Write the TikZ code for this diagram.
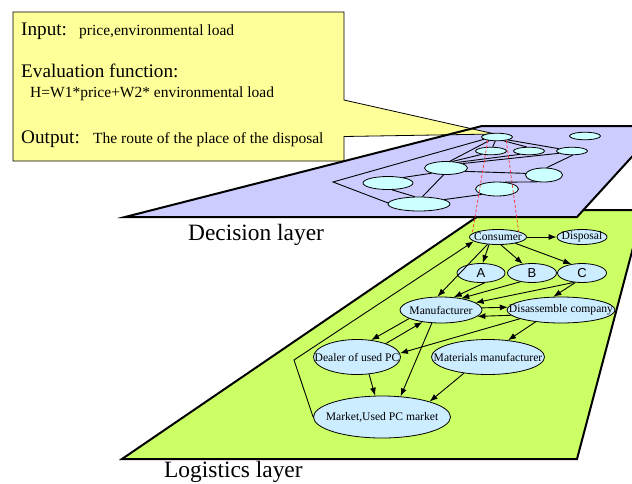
\documentclass[tikz,border=0pt]{standalone}
\usepackage{fontspec}
\setmainfont{Liberation Serif}
\newfontfamily\arialf{Liberation Sans}
\usetikzlibrary{shapes.geometric,arrows.meta}
\definecolor{callfill}{HTML}{FFFF99}
\definecolor{blueplane}{HTML}{CCCCFF}
\definecolor{greenplane}{HTML}{CCFF66}
\definecolor{dfill}{HTML}{CCFFFF}
\definecolor{lfill}{HTML}{CCECFF}
\definecolor{reddash}{HTML}{FF3333}
\begin{document}
\begin{tikzpicture}[x=1pt,y=-1pt,
  planeline/.style={line width=2pt, line join=miter},
  dnode/.style={ellipse, draw, line width=0.8pt, fill=dfill, inner sep=0pt},
  lnode/.style={ellipse, draw, line width=0.8pt, fill=lfill, inner sep=0pt},
  dline/.style={line width=0.9pt},
  arr/.style={line width=0.9pt, -{Latex[length=8pt,width=6pt]}},
  ltext/.style={font=\fontsize{11.6}{12}\selectfont, inner sep=0pt},
  stext/.style={font=\arialf\fontsize{13}{14}\selectfont, inner sep=0pt},
  bigtext/.style={font=\fontsize{19.2}{22}\selectfont, anchor=base west, inner sep=0pt},
  smalltext/.style={font=\fontsize{15.5}{17}\selectfont, anchor=base west, inner sep=0pt},
  layertext/.style={font=\fontsize{23.4}{28}\selectfont, anchor=base west, inner sep=0pt},
  rdash/.style={reddash, line width=0.7pt, dash pattern=on 3pt off 2pt}
]
\useasboundingbox (0,0) rectangle (632,483);
\fill[white] (0,0) rectangle (632,483);

% logistics plane
\draw[planeline, fill=greenplane] (122,459) -- (487,210) -- (643,210) -- (577,459) -- cycle;
% decision plane fill
\fill[blueplane] (125,217) -- (482,126) -- (660,126) -- (577,217) -- cycle;
% callout
\draw[line width=0.8pt, fill=callfill, line join=miter]
  (13,12) -- (344,12) -- (344,100) -- (495,134) -- (344,136.5) -- (344,161) -- (13,161) -- cycle;
% decision plane outline
\draw[planeline] (125,217) -- (482,126) -- (660,126) -- (577,217) -- cycle;

% callout text
\node[bigtext] (tin) at (21,35) {Input:};
\node[smalltext] (tinv) at (79,35) {price,environmental load};
\node[bigtext] (tev) at (21,77) {Evaluation function:};
\node[smalltext] (tevv) at (30,97) {H=W1*price+W2* environmental load};
\node[bigtext] (tout) at (21,143) {Output:};
\node[smalltext] (toutv) at (93,143) {The route of the place of the disposal};

% layer labels
\node[layertext] (tdl) at (188,240) {Decision layer};
\node[layertext] (tll) at (164,477) {Logistics layer};

% decision graph nodes
\node[dnode, minimum width=31, minimum height=7.5] (d1) at (497,137) {};
\node[dnode, minimum width=31, minimum height=7.5] (d2) at (585,136) {};
\node[dnode, minimum width=31, minimum height=7.5] (d3) at (491,151) {};
\node[dnode, minimum width=31, minimum height=7.5] (d4) at (529,151) {};
\node[dnode, minimum width=31, minimum height=7.5] (d5) at (572,151) {};
\node[dnode, minimum width=43, minimum height=13] (d6) at (446,168) {};
\node[dnode, minimum width=37, minimum height=14] (d7) at (544,175) {};
\node[dnode, minimum width=50, minimum height=13] (d8) at (388,183) {};
\node[dnode, minimum width=43, minimum height=14] (d9) at (497,189) {};
\node[dnode, minimum width=62, minimum height=14] (d10) at (419,204) {};
\coordinate (far) at (333,182);

% decision graph edges
\draw[dline] (d1.190) -- (far) -- (d10.178);
\draw[dline] (d1) -- (d3);
\draw[dline] (d1.330) -- (d4.120);
\draw[dline] (d1.345) -- (d5.170);
\draw[dline] (d1.205) -- (d6.60);
\draw[dline] (d3.200) -- (d6.45);
\draw[dline] (d4.200) -- (d6.25);
\draw[dline] (d5.190) -- (d6.15);
\draw[dline] (d6.350) -- (d7.175);
\draw[dline] (d6.200) -- (d8.20);
\draw[dline] (d6.250) -- (d10.65);
\draw[dline] (d8.300) -- (d10.120);
\draw[dline] (d10.10) -- (d9.200);
\draw[dline] (d9.40) -- (d7.225);
\draw[dline] (d5.280) -- (d7.70);

% logistics nodes
\node[lnode, minimum width=57, minimum height=15, label={[ltext]center:Consumer}] (cons) at (498,237) {};
\node[lnode, minimum width=50, minimum height=15, label={[ltext]center:Disposal}] (disp) at (582,237) {};
\node[lnode, minimum width=48, minimum height=19, label={[stext]center:A}] (na) at (481,273) {};
\node[lnode, minimum width=49, minimum height=19, label={[stext]center:B}] (nb) at (532,273) {};
\node[lnode, minimum width=49, minimum height=19, label={[stext]center:C}] (nc) at (582,273) {};
\node[lnode, minimum width=82, minimum height=26, label={[ltext]center:Manufacturer}] (mf) at (441,310) {};
\node[lnode, minimum width=108, minimum height=26, label={[ltext]center:Disassemble company}] (dis) at (561,310) {};
\node[lnode, minimum width=87, minimum height=35, label={[ltext]center:Dealer of used PC}] (dealer) at (357,357) {};
\node[lnode, minimum width=113, minimum height=35, label={[ltext]center:Materials manufacturer}] (mat) at (488,357) {};
\node[lnode, minimum width=137, minimum height=42, label={[ltext]center:Market,Used PC market}] (mkt) at (382,417) {};
\coordinate (bend) at (294,360);

% red dashed links between layers
\draw[rdash] (d1.200) -- (cons.172);
\draw[rdash] (d1.340) -- (cons.15);

% logistics edges
\draw[arr] (cons.east) -- (disp.west);
\draw[arr] (cons.220) -- (na.80);
\draw[arr] (cons.290) -- (nb.135);
\draw[arr] (cons.340) -- (nc.140);
\draw[arr] (cons.215) -- (mf.105);
\draw[arr] (na.290) -- (mf.45);
\draw[arr] (nb.217) -- (mf.30);
\draw[arr] (nc.230) -- (mf.12);
\draw[arr] (nc.235) -- (dis.120);
\draw[arr] (mf.3) -- (dis.177);
\draw[arr] (dis.186) -- (mf.350);
\draw[arr] (dis.192) -- (dealer.5);
\draw[arr] (dis.205) -- (mat.40);
\draw[arr] (mf.195) -- (dealer.50);
\draw[arr] (dealer.25) -- (mf.213);
\draw[arr] (mf.235) -- (mkt.48);
\draw[arr] (dealer.305) -- (mkt.108);
\draw[arr] (mat.214) -- (mkt.18);
\draw[arr] (mkt.west) -- (bend) -- (cons.190);
\end{tikzpicture}
\end{document}
